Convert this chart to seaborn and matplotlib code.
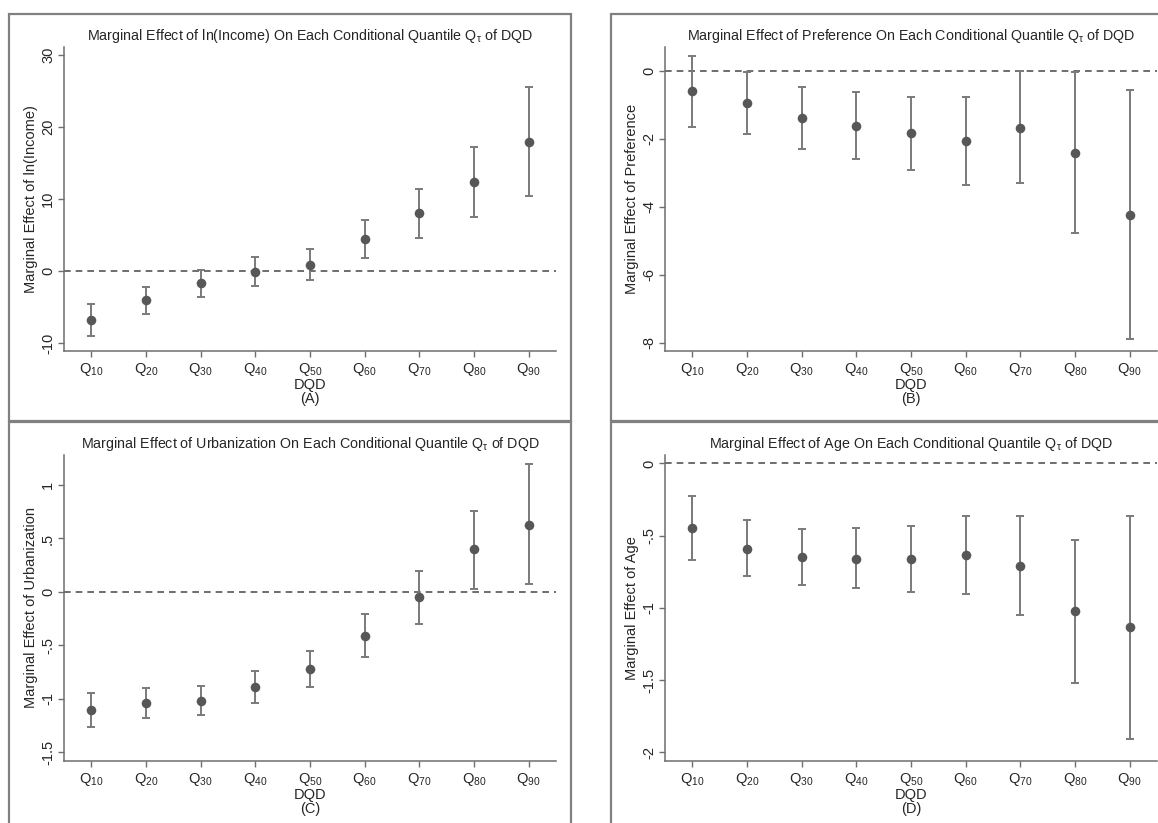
import numpy as np
import pandas as pd
import matplotlib
matplotlib.use('Agg')
import matplotlib.pyplot as plt
import seaborn as sns
from matplotlib.patches import Rectangle

quantiles = ['Q10', 'Q20', 'Q30', 'Q40', 'Q50', 'Q60', 'Q70', 'Q80', 'Q90']
q_labels = ['Q$_{10}$', 'Q$_{20}$', 'Q$_{30}$', 'Q$_{40}$', 'Q$_{50}$',
            'Q$_{60}$', 'Q$_{70}$', 'Q$_{80}$', 'Q$_{90}$']

# (A) ln(Income)
income_est = [-6.8, -4.0, -1.7, -0.1, 0.8, 4.4, 8.0, 12.3, 17.9]
income_lo = [-9.0, -5.9, -3.6, -2.1, -1.3, 1.8, 4.6, 7.5, 10.4]
income_hi = [-4.6, -2.2, 0.1, 1.9, 3.1, 7.1, 11.4, 17.2, 25.5]

# (B) Preference
pref_est = [-0.60, -0.95, -1.39, -1.62, -1.83, -2.07, -1.68, -2.42, -4.23]
pref_lo = [-1.64, -1.86, -2.29, -2.59, -2.91, -3.37, -3.30, -4.77, -7.90]
pref_hi = [0.45, -0.02, -0.48, -0.63, -0.75, -0.77, -0.01, -0.03, -0.55]

# (C) Urbanization
urban_est = [-1.10, -1.04, -1.02, -0.89, -0.72, -0.41, -0.05, 0.40, 0.63]
urban_lo = [-1.26, -1.18, -1.15, -1.04, -0.89, -0.61, -0.30, 0.03, 0.07]
urban_hi = [-0.94, -0.90, -0.875, -0.74, -0.556, -0.21, 0.20, 0.76, 1.20]

# (D) Age
age_est = [-0.446, -0.59, -0.65, -0.66, -0.664, -0.636, -0.71, -1.024, -1.135]
age_lo = [-0.666, -0.78, -0.84, -0.862, -0.89, -0.906, -1.052, -1.521, -1.907]
age_hi = [-0.229, -0.395, -0.455, -0.45, -0.435, -0.365, -0.365, -0.527, -0.365]

panels = [
    ('ln(Income)', income_est, income_lo, income_hi, '(A)',
     [-10, 0, 10, 20, 30], ['-10', '0', '10', '20', '30'], (-11.1, 31.1)),
    ('Preference', pref_est, pref_lo, pref_hi, '(B)',
     [-8, -6, -4, -2, 0], ['-8', '-6', '-4', '-2', '0'], (-8.25, 0.71)),
    ('Urbanization', urban_est, urban_lo, urban_hi, '(C)',
     [-1.5, -1, -0.5, 0, 0.5, 1], ['-1.5', '-1', '-.5', '0', '.5', '1'], (-1.58, 1.28)),
    ('Age', age_est, age_lo, age_hi, '(D)',
     [-2, -1.5, -1, -0.5, 0], ['-2', '-1.5', '-1', '-.5', '0'], (-2.06, 0.058)),
]

sns.set_style('white')
plt.rcParams['font.family'] = ['Liberation Sans', 'DejaVu Sans']
plt.rcParams['mathtext.fontset'] = 'custom'
plt.rcParams['mathtext.rm'] = 'Liberation Sans'
plt.rcParams['mathtext.it'] = 'Liberation Sans:italic'
plt.rcParams['mathtext.default'] = 'regular'

W, H = 1158, 823
fig = plt.figure(figsize=(W / 100, H / 100), dpi=100)

# axes boxes in pixels: left, top, right, bottom
boxes = [(64, 47, 556, 351), (665, 47, 1157, 351),
         (64, 455, 556, 761), (665, 455, 1157, 761)]
# panel frames
frames = [(9, 14, 571, 421), (611, 14, 1170, 421),
          (9, 422, 571, 840), (611, 422, 1170, 840)]

mark_col = '#575757'
bar_col = '#7a7a7a'
axis_col = '#6e6e6e'

for (name, est, lo, hi, tag, yt, ytl, ylim), (l, t, r, b), fr in zip(panels, boxes, frames):
    ax = fig.add_axes([l / W, 1 - b / H, (r - l) / W, (b - t) / H])
    df = pd.DataFrame({'q': quantiles, 'est': est, 'lo': lo, 'hi': hi})
    ax.axhline(0, color='#555555', lw=1.2, ls=(0, (4, 3)), zorder=1)
    ax.errorbar(x=np.arange(len(df)), y=df['est'],
                yerr=[df['est'] - df['lo'], df['hi'] - df['est']],
                fmt='none', ecolor=bar_col, elinewidth=1.4, capsize=3.2,
                capthick=1.4, zorder=2)
    sns.scatterplot(data=df, x='q', y='est', ax=ax, color=mark_col, s=48,
                    edgecolor=mark_col, linewidth=0, zorder=3)
    ax.set_xlim(-0.5, 8.5)
    ax.set_ylim(*ylim)
    ax.set_xticks(range(len(quantiles)))
    ax.set_xticklabels(q_labels, fontsize=10.5)
    ax.set_yticks(yt)
    ax.set_yticklabels(ytl, rotation=90, va='center', fontsize=10.5)
    ax.tick_params(axis='both', direction='out', length=4.5, width=1,
                   color=axis_col, pad=3, bottom=True, left=True)
    ax.tick_params(axis='y', pad=2)
    for s in ['top', 'right']:
        ax.spines[s].set_visible(False)
    for s in ['left', 'bottom']:
        ax.spines[s].set_color(axis_col)
        ax.spines[s].set_linewidth(1.1)
    ax.set_xlabel('DQD\n' + tag, fontsize=10.5, labelpad=0, linespacing=0.95)
    ax.set_ylabel('Marginal Effect of ' + name, fontsize=10.5, labelpad=2)
    ax.set_title('Marginal Effect of ' + name +
                 r' On Each Conditional Quantile Q$_{\tau}$ of DQD',
                 fontsize=10.3, pad=5)

    fx0, fy0, fx1, fy1 = fr
    fig.add_artist(Rectangle((fx0 / W, 1 - fy1 / H), (fx1 - fx0) / W, (fy1 - fy0) / H,
                             transform=fig.transFigure, fill=False,
                             edgecolor='#808080', linewidth=1.6))

fig.savefig('out.png', dpi=100)
